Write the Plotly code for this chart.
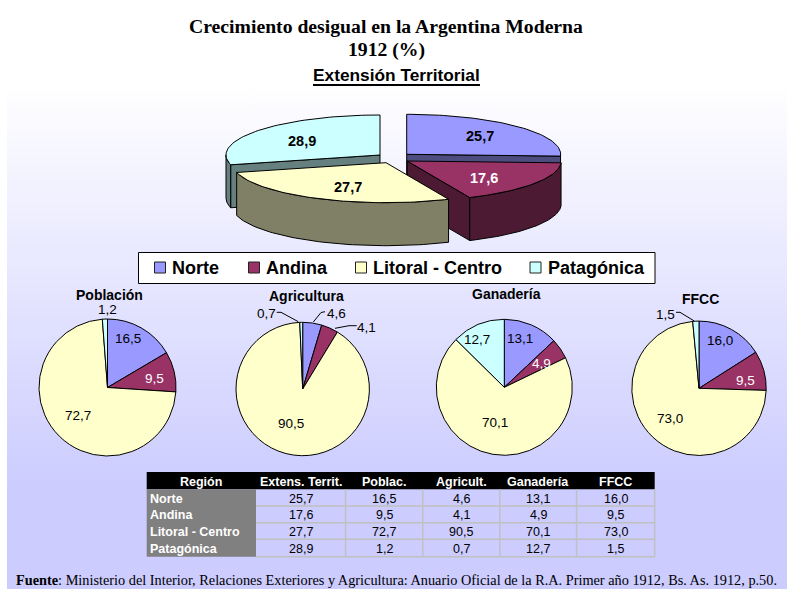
import math
import plotly.graph_objects as go

# ---------- data ----------
regiones = ["Norte", "Andina", "Litoral - Centro", "Patagónica"]
extension = [25.7, 17.6, 27.7, 28.9]
poblacion = [16.5, 9.5, 72.7, 1.2]
agricultura = [4.6, 4.1, 90.5, 0.7]
ganaderia = [13.1, 4.9, 70.1, 12.7]
ffcc = [16.0, 9.5, 73.0, 1.5]
encabezados = ["Región", "Extens. Territ.", "Poblac.", "Agricult.", "Ganadería", "FFCC"]

# ---------- style ----------
W, H = 787, 589
FONDO_X0 = 7
colores = ["#9999FF", "#993366", "#FFFFCC", "#CCFFFF"]
laterales = ["#4D4D80", "#4D1A33", "#808066", "#668080"]
SANS = "Liberation Sans"
SERIF = "Liberation Serif"


def fmt(v):
    return f"{v:.1f}".replace(".", ",")


fig = go.Figure()

# background gradient (a white strip stays at the far left)
fig.add_trace(go.Scatter(
    x=[FONDO_X0, W, W, FONDO_X0, FONDO_X0], y=[0, 0, H, H, 0], mode="lines", line=dict(width=0),
    fill="toself", hoverinfo="skip", showlegend=False,
    fillgradient=dict(type="vertical", start=0, stop=H,
                      colorscale=[[0, "#FFFFFF"], [0.14, "#FFFFFF"], [0.83, "#CCCCFF"], [1, "#CCCCFF"]]),
))

# ---------- exploded 3-D pie, angles derived from the values ----------
RX, RY, DEPTH = 154, 40, 43
centros = [(406.7, 154.3), (407.2, 161), (386, 162.7), (380, 155)]
total = sum(extension)
bordes = [0]
for v in extension:
    bordes.append(bordes[-1] + v / total * 360)


def punto(c, a, dy=0):
    r = math.radians(a)
    return c[0] + RX * math.sin(r), c[1] - RY * math.cos(r) + dy


def arco(c, a0, a1, dy=0, n=60):
    return [punto(c, a0 + (a1 - a0) * i / n, dy) for i in range(n + 1)]


def poligono(pts, color):
    xs = [p[0] for p in pts] + [pts[0][0]]
    ys = [p[1] for p in pts] + [pts[0][1]]
    fig.add_trace(go.Scatter(x=xs, y=ys, mode="lines", fill="toself", fillcolor=color,
                             line=dict(color="#000000", width=1), hoverinfo="skip", showlegend=False))


def cara_corte(i, a):
    c = centros[i]
    poligono([c, punto(c, a), punto(c, a, DEPTH), (c[0], c[1] + DEPTH)], laterales[i])


def lado(i, a0, a1):
    c = centros[i]
    poligono(arco(c, a0, a1) + arco(c, a1, a0, DEPTH), laterales[i])


def tapa(i):
    c = centros[i]
    poligono([c] + arco(c, bordes[i], bordes[i + 1]), colores[i])


# back to front: Patagónica, Norte, Andina, Litoral
cara_corte(3, bordes[3])
lado(3, bordes[3], 270)
tapa(3)
cara_corte(0, bordes[1])
tapa(0)
cara_corte(1, bordes[2])
lado(1, bordes[1], bordes[2])
tapa(1)
lado(2, bordes[2], bordes[3])
tapa(2)

# ---------- small pies ----------
series = [poblacion, agricultura, ganaderia, ffcc]
geom = [(107.5, 387.5, 68.5), (302.7, 389, 66.7), (504.3, 387.3, 68), (699, 388.3, 67.2)]
for vals, (cx, cy, r) in zip(series, geom):
    fig.add_trace(go.Pie(
        values=vals, labels=regiones, sort=False, direction="clockwise", rotation=0,
        textinfo="none", hoverinfo="skip", showlegend=False,
        marker=dict(colors=colores, line=dict(color="#000000", width=1)),
        domain=dict(x=[(cx - r) / W, (cx + r) / W], y=[1 - (cy + r) / H, 1 - (cy - r) / H]),
    ))

annotations = []


def txt(x, y, s, size=13, color="#000000", bold=False, family=SANS, xanchor="center"):
    annotations.append(dict(x=x, y=y, xref="x", yref="y", showarrow=False, xanchor=xanchor, yanchor="middle",
                            text=f"<b>{s}</b>" if bold else s, borderpad=0,
                            font=dict(family=family, size=size, color=color)))


# titles
txt(386, 26, "Crecimiento desigual en la Argentina Moderna", 19.7, bold=True, family=SERIF)
txt(386, 49, "1912 (%)", 19.7, bold=True, family=SERIF)
txt(396.5, 75, "Extensión Territorial", 17.3, bold=True)

# 3-D pie labels
pos3d = [(480, 136), (484, 178), (348, 187), (302, 141)]
for (x, y), v, col in zip(pos3d, extension, ["#000000", "#FFFFFF", "#000000", "#000000"]):
    txt(x, y, fmt(v), 14.5, col, bold=True)

# small pie titles and labels
titulos = ["Población", "Agricultura", "Ganadería", "FFCC"]
pos_tit = [(109, 294.5), (306, 296), (506.7, 294), (700, 299)]
for t, (x, y) in zip(titulos, pos_tit):
    txt(x, y, t, 14, bold=True)

pos_lab = [
    [(128, 338), (154, 378), (77.5, 415), (107, 309.5)],
    [(336, 313), (366, 327), (291, 423), (266, 313)],
    [(520, 338), (541, 363), (495, 422), (476.7, 339.5)],
    [(720, 340), (745, 380), (670, 418), (665, 314)],
]
for vals, poss in zip(series, pos_lab):
    for i, (v, (x, y)) in enumerate(zip(vals, poss)):
        txt(x, y, fmt(v), 13.5, "#FFFFFF" if i == 1 and (x, y) != (366, 327) else "#000000")

# leader lines
guias = [
    [(276.7, 312.3), (281, 312.3), (298.3, 321.7)],
    [(325, 311.7), (321, 312.5), (313.3, 322)],
    [(356.7, 325.7), (349, 325.7), (335, 328.3)],
    [(676, 312.3), (680, 312.3), (694.3, 321)],
]
shapes = []
for g in guias:
    path = "M" + " L".join(f"{x},{y}" for x, y in g)
    shapes.append(dict(type="path", path=path, xref="x", yref="y", line=dict(color="#000000", width=1)))

# underline of the sub-title
shapes.append(dict(type="line", xref="x", yref="y", x0=313, x1=480, y0=85, y1=85, line=dict(color="#000000", width=2)))

# legend box
shapes.append(dict(type="rect", xref="x", yref="y", x0=138.5, x1=655, y0=252.5, y1=283.5,
                   fillcolor="#FFFFFF", line=dict(color="#000000", width=1)))
leg_sw = [154.5, 248.5, 355.5, 530]
leg_tx = [170.5, 264.5, 371.5, 546.5]
for n, c, sx, tx in zip(regiones, colores, leg_sw, leg_tx):
    shapes.append(dict(type="rect", xref="x", yref="y", x0=sx, x1=sx + 11, y0=262, y1=273,
                       fillcolor=c, line=dict(color="#222222", width=1)))
    txt(tx, 268, n, 18, bold=True, xanchor="left")

# source
annotations.append(dict(x=14, y=580.3, xref="x", yref="y", showarrow=False, xanchor="left", yanchor="middle",
                        text="<b>Fuente</b>: Ministerio del Interior, Relaciones Exteriores y Agricultura: "
                             "Anuario Oficial de la R.A. Primer año 1912, Bs. As. 1912, p.50.",
                        font=dict(family=SERIF, size=14.3, color="#000000")))

# ---------- table (plotly's go.Table has a fixed cell padding that is too large here) ----------
col_x = [146.7, 256, 345.6, 422.8, 499.8, 576.6, 654.7]
fila_y = [472, 489.3, 506, 522.7, 539.3, 556.7]
texto_y = [481.5, 498.5, 515, 531.5, 548.5]
columnas = [[fmt(v) for v in s] for s in [extension, poblacion, agricultura, ganaderia, ffcc]]
shapes.append(dict(type="rect", xref="x", yref="y", x0=col_x[0], x1=col_x[-1], y0=fila_y[0], y1=fila_y[1],
                   fillcolor="#000000", line=dict(width=0)))
shapes.append(dict(type="rect", xref="x", yref="y", x0=col_x[0], x1=col_x[1], y0=fila_y[1], y1=fila_y[-1],
                   fillcolor="#808080", line=dict(width=0)))
for yy in fila_y[2:]:
    shapes.append(dict(type="line", xref="x", yref="y", x0=col_x[1], x1=col_x[-1], y0=yy, y1=yy,
                       line=dict(color="#C0C0C0", width=1.5)))
for xx in col_x[2:]:
    shapes.append(dict(type="line", xref="x", yref="y", x0=xx, x1=xx, y0=fila_y[1], y1=fila_y[-1],
                       line=dict(color="#C0C0C0", width=1.5)))
for j, h in enumerate(encabezados):
    txt((col_x[j] + col_x[j + 1]) / 2, texto_y[0], h, 12.5, "#FFFFFF", bold=True)
for i, r in enumerate(regiones):
    txt(149, texto_y[i + 1], r, 12.5, "#FFFFFF", bold=True, xanchor="left")
    for j, col in enumerate(columnas):
        txt((col_x[j + 1] + col_x[j + 2]) / 2, texto_y[i + 1], col[i], 12.5)

fig.update_layout(
    width=W, height=H, margin=dict(l=0, r=0, t=0, b=0), autosize=False,
    paper_bgcolor="#FFFFFF", plot_bgcolor="rgba(0,0,0,0)", showlegend=False,
    xaxis=dict(range=[0, W], visible=False, fixedrange=True),
    yaxis=dict(range=[H, 0], visible=False, fixedrange=True),
    annotations=annotations, shapes=shapes,
)
fig.write_html("out.html", config=dict(displayModeBar=False),
               post_script="document.body.style.margin='0';document.documentElement.style.overflow='hidden';")
